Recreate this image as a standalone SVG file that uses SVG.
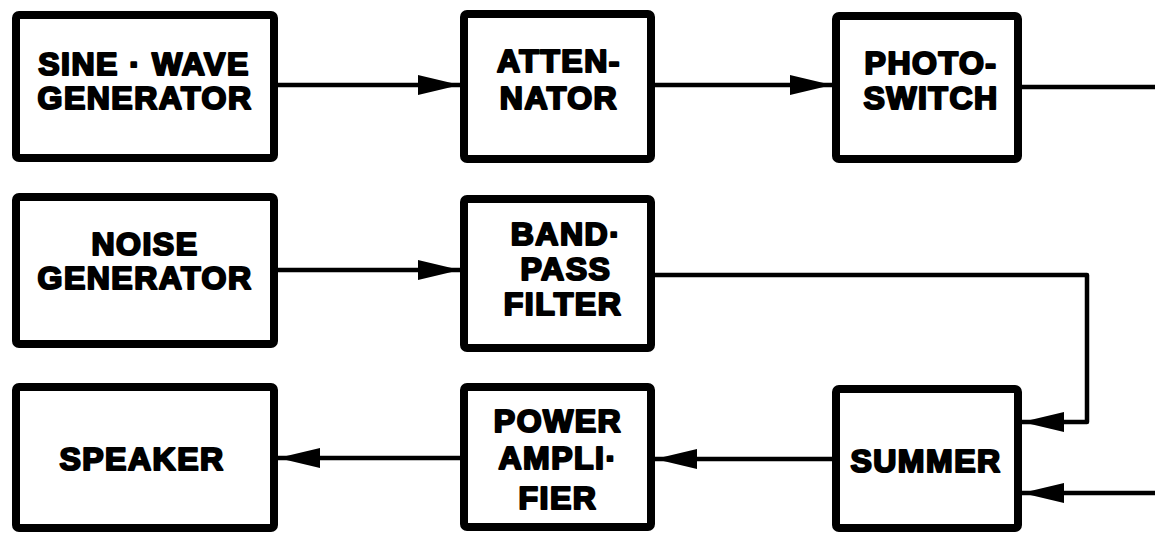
<svg xmlns="http://www.w3.org/2000/svg" width="1155" height="534" viewBox="0 0 1155 534">
<style>
.box{fill:#fff;stroke:#000;stroke-width:8;stroke-linejoin:round}
.lbl{font-family:"Liberation Sans",Arial,sans-serif;font-weight:bold;font-size:32px;fill:#000;stroke:#000;stroke-width:2.2;stroke-linejoin:round;text-anchor:middle;letter-spacing:1.5px}
.wire{fill:none;stroke:#000;stroke-width:4.5;stroke-linejoin:round}
</style>
<defs>
<marker id="arr" markerUnits="userSpaceOnUse" markerWidth="46" markerHeight="24" refX="42" refY="12" orient="auto" viewBox="0 0 46 24">
<path d="M0,2 L42,12 L0,22 Z" fill="#000"/>
</marker>
</defs>
<rect width="1155" height="534" fill="#fff"/>
<g id="connectors">
<path class="wire" d="M278,85 H460" marker-end="url(#arr)"/>
<path class="wire" d="M655,85 H832" marker-end="url(#arr)"/>
<path class="wire" d="M1022,87 H1155"/>
<path class="wire" d="M278,270 H460" marker-end="url(#arr)"/>
<path class="wire" d="M655,275 H1087 V422 H1022" marker-end="url(#arr)"/>
<path class="wire" d="M1155,493 H1022" marker-end="url(#arr)"/>
<path class="wire" d="M832,459 H655" marker-end="url(#arr)"/>
<path class="wire" d="M460,458 H278" marker-end="url(#arr)"/>
</g>
<g id="sine-wave-generator">
<rect class="box" x="16" y="15" width="258" height="143" rx="3"/>
<text class="lbl" x="144" y="75">SINE · WAVE</text>
<text class="lbl" x="145" y="109">GENERATOR</text>
</g>
<g id="attenuator">
<rect class="box" x="464" y="14" width="187" height="145" rx="3"/>
<text class="lbl" x="559" y="72">ATTEN-</text>
<text class="lbl" x="559" y="109">NATOR</text>
</g>
<g id="photo-switch">
<rect class="box" x="836" y="16" width="182" height="143" rx="3"/>
<text class="lbl" x="931" y="74">PHOTO-</text>
<text class="lbl" x="931" y="109">SWITCH</text>
</g>
<g id="noise-generator">
<rect class="box" x="16" y="197" width="258" height="147" rx="3"/>
<text class="lbl" x="145" y="255">NOISE</text>
<text class="lbl" x="145" y="289">GENERATOR</text>
</g>
<g id="band-pass-filter">
<rect class="box" x="464" y="199" width="187" height="149" rx="3"/>
<text class="lbl" x="566" y="245">BAND·</text>
<text class="lbl" x="566" y="280">PASS</text>
<text class="lbl" x="563" y="315">FILTER</text>
</g>
<g id="speaker">
<rect class="box" x="16" y="387" width="258" height="141" rx="3"/>
<text class="lbl" x="142" y="470">SPEAKER</text>
</g>
<g id="power-amplifier">
<rect class="box" x="464" y="387" width="187" height="140" rx="3"/>
<text class="lbl" x="558" y="432">POWER</text>
<text class="lbl" x="558" y="469">AMPLI·</text>
<text class="lbl" x="558" y="509">FIER</text>
</g>
<g id="summer">
<rect class="box" x="836" y="389" width="182" height="139" rx="3"/>
<text class="lbl" x="926" y="472">SUMMER</text>
</g>
</svg>
